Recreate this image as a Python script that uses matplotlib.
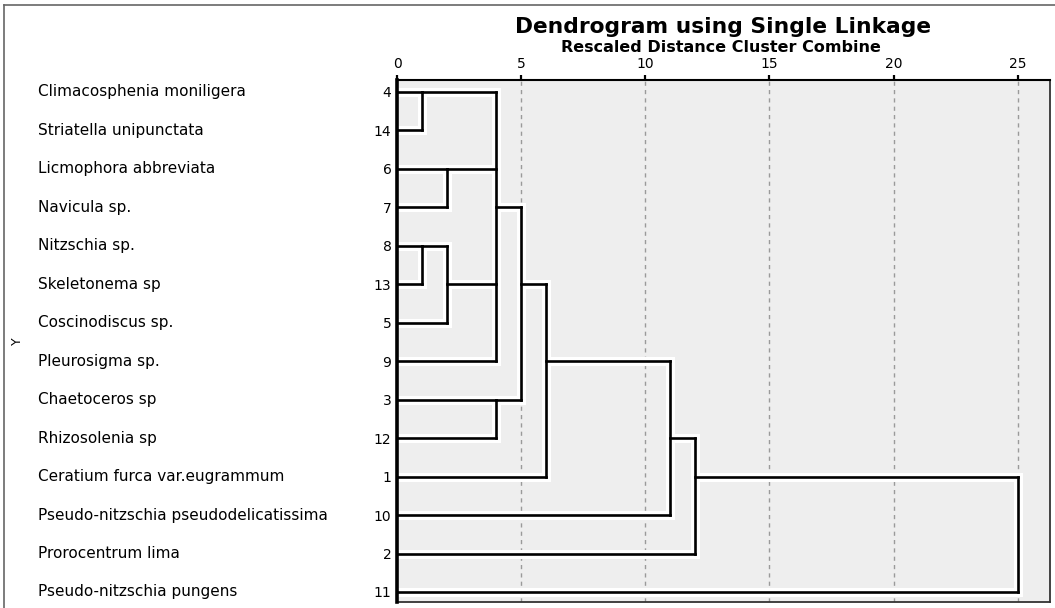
import matplotlib
matplotlib.use("Agg")
import matplotlib.pyplot as plt
from matplotlib.collections import LineCollection
from matplotlib.lines import Line2D
from matplotlib.transforms import blended_transform_factory
import numpy as np

# cases in dendrogram order (top to bottom)
species = ["Climacosphenia moniligera", "Striatella unipunctata", "Licmophora abbreviata",
           "Navicula sp.", "Nitzschia sp.", "Skeletonema sp", "Coscinodiscus sp.",
           "Pleurosigma sp.", "Chaetoceros sp", "Rhizosolenia sp",
           "Ceratium furca var.eugrammum", "Pseudo-nitzschia pseudodelicatissima",
           "Prorocentrum lima", "Pseudo-nitzschia pungens"]
case_ids = [4, 14, 6, 7, 8, 13, 5, 9, 3, 12, 1, 10, 2, 11]

# merges: children (leaves 0..13, new clusters numbered from 14 on) and rescaled distance
merge_children = [[0, 1], [4, 5], [2, 3], [15, 6], [14, 16, 17, 7], [8, 9],
                  [18, 19], [20, 10], [21, 11], [22, 12], [23, 13]]
merge_dist = [1, 1, 2, 2, 4, 4, 5, 6, 11, 12, 25]

x_ticks = [0, 5, 10, 15, 20, 25]

W, H = 1055, 608
fig = plt.figure(figsize=(W / 100, H / 100), dpi=100)
fig.patch.set_facecolor("white")

# plot box in pixels: left 397, right 1050, top 80, bottom 602
ax = fig.add_axes([397 / W, 1 - 602 / H, (1050 - 397) / W, (602 - 80) / H])
ax.set_facecolor("#eeeeee")
n = len(species)
ax.set_xlim(0, 26.3)
ax.set_ylim(n - 1 + 0.26, -0.31)

# build the segments (SPSS puts a joined cluster on its middle row)
row = {i: i for i in range(n)}
height = {i: 0.0 for i in range(n)}
segs = []
for k, (kids, d) in enumerate(zip(merge_children, merge_dist)):
    rows = [row[c] for c in kids]
    for c in kids:
        segs.append([(height[c], row[c]), (d, row[c])])
    segs.append([(d, min(rows)), (d, max(rows))])
    new = n + k
    row[new] = (min(rows) + max(rows)) // 2
    height[new] = d

for xt in x_ticks[1:]:
    ax.axvline(xt, color="#9a9a9a", lw=1.0, ls=(0, (3, 3)), zorder=1)

ax.add_collection(LineCollection(segs, colors="white", linewidths=6.5, capstyle="projecting", zorder=2))
ax.add_collection(LineCollection(segs, colors="black", linewidths=1.9, capstyle="projecting", zorder=3))

# axis on top
ax.xaxis.tick_top()
ax.set_xticks(x_ticks)
ax.set_xticklabels([str(t) for t in x_ticks], fontsize=10)
ax.tick_params(axis="x", direction="out", length=3.5, width=1.6, pad=3)
ax.set_yticks(range(n))
ax.set_yticklabels([str(c) for c in case_ids], fontsize=10)
ax.tick_params(axis="y", length=0, pad=4)
ax.spines["top"].set_linewidth(1.5)
ax.spines["left"].set_linewidth(2.6)
ax.spines["left"].set_zorder(5)
ax.spines["right"].set_linewidth(1.3)
ax.spines["bottom"].set_linewidth(1.3)
ax.spines["right"].set_color("#333333")
ax.spines["bottom"].set_color("#333333")

# species names
tr = blended_transform_factory(fig.transFigure, ax.transData)
for i, name in enumerate(species):
    ax.text(38 / W, i, name, transform=tr, ha="left", va="center", fontsize=11, clip_on=False)

fig.text(17 / W, 1 - 341 / H, "Y", rotation=90, ha="center", va="center", fontsize=9)

fig.text(723 / W, 1 - 27 / H, "Dendrogram using Single Linkage", ha="center", va="center",
         fontsize=15.7, fontweight="bold")
fig.text(721 / W, 1 - 47 / H, "Rescaled Distance Cluster Combine", ha="center", va="center",
         fontsize=11.5, fontweight="bold")

# outer frame (only top and left edges visible)
fig.add_artist(Line2D([4 / W, 1], [1 - 5 / H, 1 - 5 / H], transform=fig.transFigure, color="#666666", lw=1.2))
fig.add_artist(Line2D([4 / W, 4 / W], [0, 1 - 5 / H], transform=fig.transFigure, color="#666666", lw=1.2))

fig.savefig("out.png", dpi=100)
